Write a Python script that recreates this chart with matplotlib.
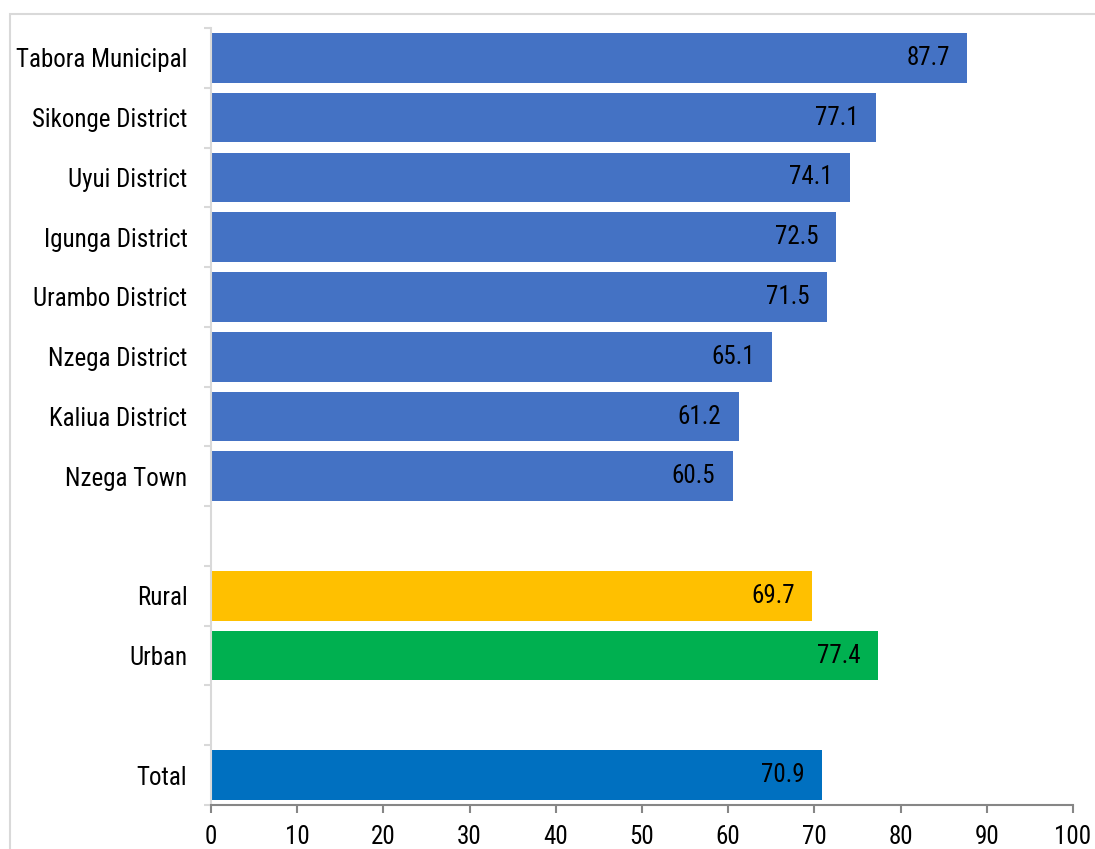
import matplotlib.pyplot as plt
import numpy as np
from matplotlib.patches import Rectangle

plt.rcParams["font.family"] = ["Roboto Condensed", "Liberation Sans", "DejaVu Sans"]

# top to bottom, empty strings are the gaps between groups
categories = [
    "Tabora Municipal", "Sikonge District", "Uyui District", "Igunga District",
    "Urambo District", "Nzega District", "Kaliua District", "Nzega Town",
    "", "Rural", "Urban", "", "Total",
]
values = [87.7, 77.1, 74.1, 72.5, 71.5, 65.1, 61.2, 60.5, None, 69.7, 77.4, None, 70.9]
groups = ["district"] * 8 + [None, "rural", "urban", None, "total"]
group_colors = {
    "district": "#4472C4",
    "rural": "#FFC000",
    "urban": "#00B050",
    "total": "#0070C0",
}
x_ticks = list(range(0, 101, 10))

FS = 18

fig = plt.figure(figsize=(10.95, 8.49), dpi=100)
ax = fig.add_axes([211 / 1095, 44 / 849, (1073 - 211) / 1095, (805 - 28) / 849])

# light frame around the chart area
fig.patches.append(Rectangle((10 / 1095, -0.05), 1.2, (849 - 14) / 849 + 0.05,
                             transform=fig.transFigure, fill=False,
                             edgecolor="#d9d9d9", linewidth=1.5))

n = len(categories)
ypos = np.arange(n)
for y, v, g in zip(ypos, values, groups):
    if v is None:
        continue
    ax.barh(y, v, height=0.83, color=group_colors[g], edgecolor="none")
    ax.text(v - 2.0, y, f"{v:.1f}", ha="right", va="center", fontsize=FS, color="black")

ax.set_xlim(0, 100)
ax.set_ylim(n - 0.5, -0.5)
ax.set_xticks(x_ticks)
ax.set_xticklabels([str(t) for t in x_ticks], fontsize=FS)
ax.set_yticks(ypos)
ax.set_yticklabels(categories, fontsize=FS)
ax.set_yticks(np.arange(n + 1) - 0.5, minor=True)

ax.tick_params(axis="y", which="major", length=0, pad=17)
ax.tick_params(axis="y", which="minor", length=5, color="#d9d9d9", width=1.5)
ax.tick_params(axis="x", length=5.5, color="#868686", width=1.5, pad=9)

for side in ("top", "right"):
    ax.spines[side].set_visible(False)
ax.spines["left"].set_color("#d9d9d9")
ax.spines["left"].set_linewidth(1.5)
ax.spines["bottom"].set_color("#868686")
ax.spines["bottom"].set_linewidth(1.5)

fig.savefig("out.png", dpi=100)
